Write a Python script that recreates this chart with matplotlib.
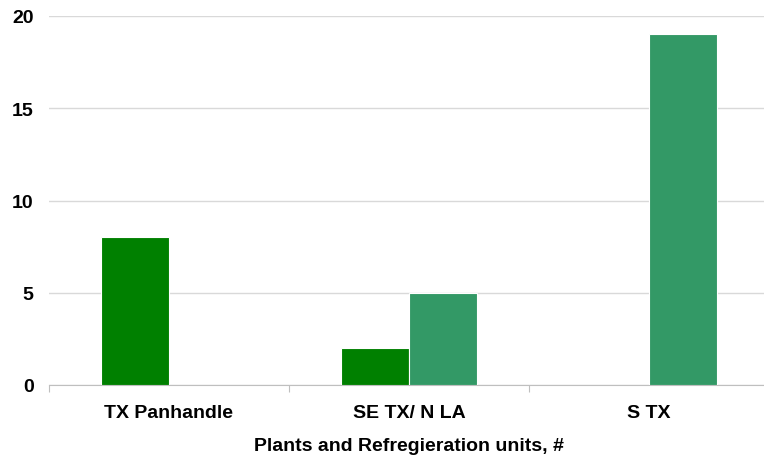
import matplotlib.pyplot as plt
import numpy as np

categories = ["TX Panhandle", "SE TX/ N LA", "S TX"]
plants = [8, 2, 0]
refrigeration = [0, 5, 19]
y_ticks = [0, 5, 10, 15, 20]

plt.rcParams["font.family"] = ["Liberation Sans", "DejaVu Sans"]

fig = plt.figure(figsize=(7.64, 4.56), dpi=100)
ax = fig.add_axes([49 / 764, 70 / 456, 720 / 764, 369 / 456])

x = np.arange(len(categories))
w = 0.283
ax.bar(x - w / 2, plants, w, color="#008000", edgecolor="white", linewidth=0.8, zorder=3)
ax.bar(x + w / 2, refrigeration, w, color="#339966", edgecolor="white", linewidth=0.8, zorder=3)

ax.set_xlim(-0.5, 2.5)
ax.set_ylim(0, 20)
ax.set_yticks(y_ticks)
ax.yaxis.grid(True, color="#d9d9d9", linewidth=1, zorder=0)
ax.tick_params(axis="y", length=0, pad=11, labelsize=14)

# category ticks sit on the group boundaries, labels in the middle
ax.set_xticks([-0.5, 0.5, 1.5, 2.5])
ax.set_xticklabels([])
ax.set_xticks(x, minor=True)
ax.set_xticklabels(categories, minor=True, fontweight="bold", fontsize=14)
ax.tick_params(axis="x", which="major", length=5, color="#bfbfbf", direction="out")
ax.tick_params(axis="x", which="minor", length=0, pad=14)
for lbl in ax.get_yticklabels():
    lbl.set_fontweight("bold")

for side in ["top", "right", "left"]:
    ax.spines[side].set_visible(False)
ax.spines["bottom"].set_color("#bfbfbf")

ax.set_xlabel("Plants and Refregieration units, #", fontweight="bold", fontsize=14, labelpad=11)

fig.savefig("out.png", dpi=100)
